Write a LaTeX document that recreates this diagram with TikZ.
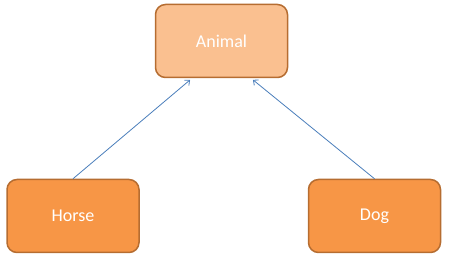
\documentclass[tikz,border=0pt]{standalone}
\usepackage{fontspec}
\setmainfont{Carlito}
\usetikzlibrary{arrows.meta}
\definecolor{lightorange}{HTML}{FAC090}
\definecolor{midorange}{HTML}{F79646}
\definecolor{edgebrown}{HTML}{B66D31}
\definecolor{linkblue}{HTML}{4A7EBB}
\tikzset{
  classbox/.style={draw=edgebrown, line width=1.5pt, rounded corners=10pt,
    minimum width=132pt, minimum height=73pt, inner sep=0pt,
    text=white, font=\fontsize{18}{20}\selectfont},
  parentbox/.style={classbox, fill=lightorange},
  childbox/.style={classbox, fill=midorange},
  inherits/.style={draw=linkblue, line width=0.8pt,
    -{Straight Barb[length=4pt,width=7pt]}, shorten >=2.5pt}
}
\begin{document}
\begin{tikzpicture}[x=1pt,y=1pt]
  \useasboundingbox (0,0) rectangle (450,262);
  \node[parentbox] (animal) at (221.5,221) {Animal};
  \node[childbox] (horse) at (73,46) {Horse};
  \node[childbox] (dog) at (374.5,46) {Dog};
  \draw[inherits] (horse.north) -- ([xshift=-29.5pt]animal.south);
  \draw[inherits] (dog.north) -- ([xshift=29.5pt]animal.south);
\end{tikzpicture}
\end{document}
